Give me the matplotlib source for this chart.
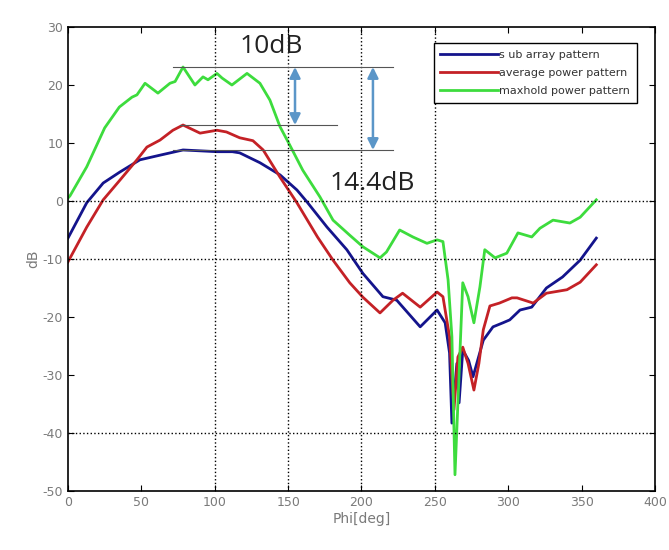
# antenna pattern plot, subarray vs average vs maxhold
import matplotlib
matplotlib.use('Agg')
import matplotlib.pyplot as plt
import numpy as np

plt.rcParams['axes.unicode_minus'] = False

# sub array pattern
phi_sub = [0, 12.8, 24, 35.4, 49, 62.7, 78.4, 101.5, 112, 117, 130.8, 144.5, 156, 163, 176.5,
           190, 201, 214.6, 224, 240, 251.5, 257, 260, 261.6, 265, 266.5, 269, 273, 276, 283,
           289.6, 296.4, 301, 308, 316, 326, 337, 349, 360]
db_sub = [-6.4, -0.3, 3.1, 5.0, 7.1, 7.9, 8.8, 8.5, 8.5, 8.3, 6.6, 4.5, 1.9, -0.2, -4.5,
          -8.4, -12.5, -16.5, -17.1, -21.7, -18.8, -21.0, -26.2, -38.3, -28.0, -34.8, -25.7, -27.5, -30.3, -24.0,
          -21.7, -21.0, -20.5, -18.8, -18.3, -15.0, -13.1, -10.2, -6.4]

# average power pattern
phi_avg = [0, 12.8, 24, 35.4, 47, 53.8, 62.7, 71.5, 78.4, 90, 101.5, 108, 117, 126, 133,
           144.5, 156, 170, 180.6, 192, 201, 212.6, 221.5, 228, 240, 251.5, 255.5, 260, 263, 265.7,
           269, 272.6, 276.6, 280, 283, 287.5, 294, 302.5, 306, 317, 326, 340, 349, 360]
db_avg = [-10.5, -4.5, 0.2, 3.6, 7.1, 9.3, 10.5, 12.2, 13.1, 11.7, 12.2, 11.9, 10.9, 10.4, 8.8,
          4.1, -0.3, -6.2, -10.2, -14.1, -16.6, -19.3, -17.1, -15.9, -18.3, -15.7, -16.5, -23.4, -36.0, -26.9,
          -25.2, -28.0, -32.6, -28.0, -22.2, -18.1, -17.6, -16.7, -16.7, -17.6, -15.9, -15.3, -14.0, -11.0]

# maxhold power pattern
phi_max = [0, 1.4, 12.8, 25, 35, 43.6, 47, 52.5, 61.3, 69.5, 73, 78.4, 86.5, 92, 95.4,
           101.5, 105, 111.7, 122, 130.8, 137.6, 144.5, 151, 160, 171.7, 180.6, 192, 201, 212.6,
           217, 226, 235, 244.6, 251.5, 255.5, 259, 261.6, 263.7, 265.7, 269, 272.6, 276.6, 280.7,
           284, 291, 299, 306.6, 316, 321.6, 330.5, 342, 349, 360]
db_max = [0.5, 0.9, 5.9, 12.6, 16.2, 17.9, 18.3, 20.3, 18.6, 20.3, 20.6, 23.1, 20.0, 21.4, 20.9,
          22.0, 21.2, 20.0, 22.0, 20.3, 17.4, 12.8, 9.7, 5.3, 0.7, -3.3, -5.9, -7.9, -9.8,
          -8.8, -5.0, -6.2, -7.3, -6.7, -7.0, -13.6, -23.4, -47.2, -34.8, -14.1, -16.5, -21.0, -14.8,
          -8.4, -9.8, -9.0, -5.5, -6.2, -4.7, -3.3, -3.8, -2.8, 0.2]

labels = ['s ub array pattern', 'average power pattern', 'maxhold power pattern']
colors = ['#14148c', '#c42126', '#3ddc3d']

fig = plt.figure(figsize=(6.69, 5.5), dpi=100)
ax = fig.add_axes([0.1016, 0.1073, 0.8775, 0.8436])

for xs, ys, lab, col in zip([phi_sub, phi_avg, phi_max], [db_sub, db_avg, db_max], labels, colors):
    ax.plot(xs, ys, color=col, lw=2, label=lab)

ax.set_xlim(0, 400)
ax.set_ylim(-50, 30)
ax.set_xticks(np.arange(0, 401, 50))
ax.set_yticks(np.arange(-50, 31, 10))

# only some grid lines are visible in the original
for gx in [100, 150, 200, 250]:
    ax.axvline(gx, color='k', ls=':', lw=1)
for gy in [0, -10, -40]:
    ax.axhline(gy, color='k', ls=':', lw=1)

ax.tick_params(direction='in', top=True, right=True, labelsize=9, labelcolor='#7a7a7a', length=4)
for sp in ax.spines.values():
    sp.set_linewidth(1.2)
ax.set_xlabel('Phi[deg]', fontsize=10, color='#7a7a7a', labelpad=2)
ax.set_ylabel('dB', fontsize=10, color='#7a7a7a', labelpad=2)

# level lines + difference arrows
top_lvl = max(db_max)
mid_lvl = max(db_avg)
low_lvl = max(db_sub)
ax.plot([71.6, 221.5], [top_lvl, top_lvl], color='#555555', lw=0.8)
ax.plot([76, 183], [mid_lvl, mid_lvl], color='#555555', lw=0.8)
ax.plot([71.6, 221.5], [low_lvl, low_lvl], color='#555555', lw=0.8)
arr = dict(arrowstyle='<|-|>', color='#5b96c8', lw=1.8, mutation_scale=16, shrinkA=0, shrinkB=0)
ax.annotate('', xy=(154.7, mid_lvl), xytext=(154.7, top_lvl), arrowprops=arr)
ax.annotate('', xy=(207.8, low_lvl), xytext=(207.8, top_lvl), arrowprops=arr)
ax.text(138.3, 26.7, '10dB', fontsize=19, family='Open Sans', color='#222222', ha='center', va='center')
ax.text(207, 3.1, '14.4dB', fontsize=19, family='Open Sans', color='#222222', ha='center', va='center')

leg = ax.legend(loc='upper right', bbox_to_anchor=(0.969, 0.9655), fontsize=8, fancybox=False,
                framealpha=1, edgecolor='k', handlelength=5.2, handletextpad=0.1,
                labelspacing=0.75, borderpad=0.6, borderaxespad=0)
leg.get_frame().set_linewidth(1)
for t in leg.get_texts():
    t.set_color('#333333')

plt.savefig('out.png', dpi=100)
plt.close()
